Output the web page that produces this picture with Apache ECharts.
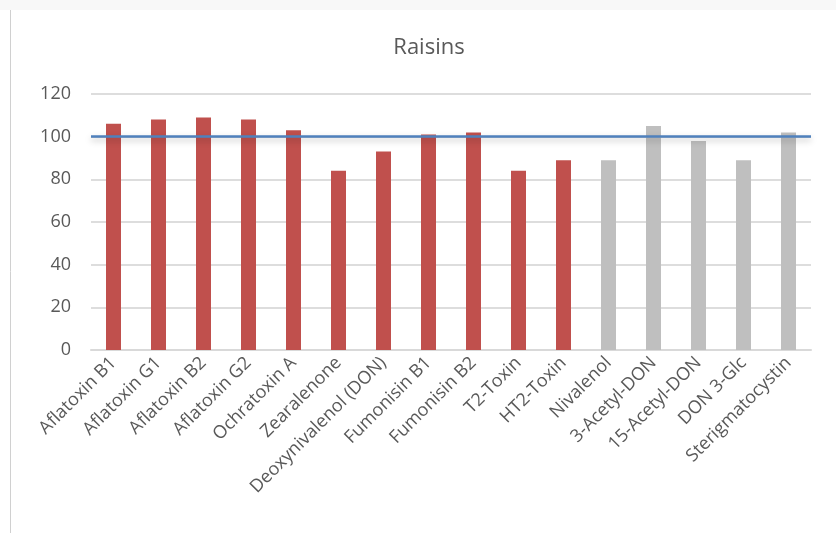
<!DOCTYPE html>
<html><head><meta charset="utf-8">
<script src="https://cdn.jsdelivr.net/npm/echarts@6/dist/echarts.min.js"></script>
<style>html,body{margin:0;padding:0;background:#fff}#c{width:836px;height:533px}</style>
</head><body><div id="c"></div>
<script>
const titleText = "Raisins";
const categories = ["Aflatoxin B1","Aflatoxin G1","Aflatoxin B2","Aflatoxin G2","Ochratoxin A","Zearalenone","Deoxynivalenol (DON)","Fumonisin B1","Fumonisin B2","T2-Toxin","HT2-Toxin","Nivalenol","3-Acetyl-DON","15-Acetyl-DON","DON 3-Glc","Sterigmatocystin"];
const values = [106, 108, 109, 108, 103, 84, 93, 101, 102, 84, 89, 89, 105, 98, 89, 102];
const groupFlags = [1,1,1,1,1,1,1,1,1,1,1,0,0,0,0,0];
const referenceValue = 100;
const yTicks = [0,20,40,60,80,100,120];

const RED = "#c0504d", GREY = "#bfbfbf";
const chart = echarts.init(document.getElementById('c'), null, {renderer:'canvas'});
chart.setOption({
  animation:false,
  backgroundColor:'#ffffff',
  graphic:[
    {type:'rect', shape:{x:0,y:0,width:836,height:10}, style:{fill:'#f8f8f8'}, silent:true},
    {type:'line', shape:{x1:10.5,y1:10,x2:10.5,y2:533}, style:{stroke:'#d0d0d0',lineWidth:1}, silent:true}
  ],
  title:{text:titleText, left:424, textAlign:'center', top:32,
    textStyle:{fontFamily:'Open Sans', fontSize:22, fontWeight:'normal', color:'#595959'}},
  grid:{left:91, right:25, top:94, bottom:183, containLabel:false},
  xAxis:{type:'category', data:categories,
    axisLine:{lineStyle:{color:'#d9d9d9', width:2}},
    axisTick:{show:false},
    axisLabel:{rotate:45, interval:0, margin:10, color:'#595959', fontFamily:'Open Sans', fontSize:18}},
  yAxis:{type:'value', min:yTicks[0], max:yTicks[yTicks.length-1], interval:20,
    axisLine:{show:false}, axisTick:{show:false},
    splitLine:{lineStyle:{color:'#dddddd', width:2}},
    axisLabel:{margin:20, color:'#595959', fontFamily:'Open Sans', fontSize:18}},
  series:[{
    type:'bar', barWidth:15,
    data: values.map((v,i)=>({value:v, itemStyle:{color: groupFlags[i]?RED:GREY}})),
    markLine:{symbol:'none', silent:true, label:{show:false},
      lineStyle:{color:'#4f81bd', width:2.5, type:'solid', shadowColor:'rgba(0,0,0,0.25)', shadowBlur:6, shadowOffsetY:3},
      data:[{yAxis:referenceValue}]}
  }]
});
</script></body></html>
